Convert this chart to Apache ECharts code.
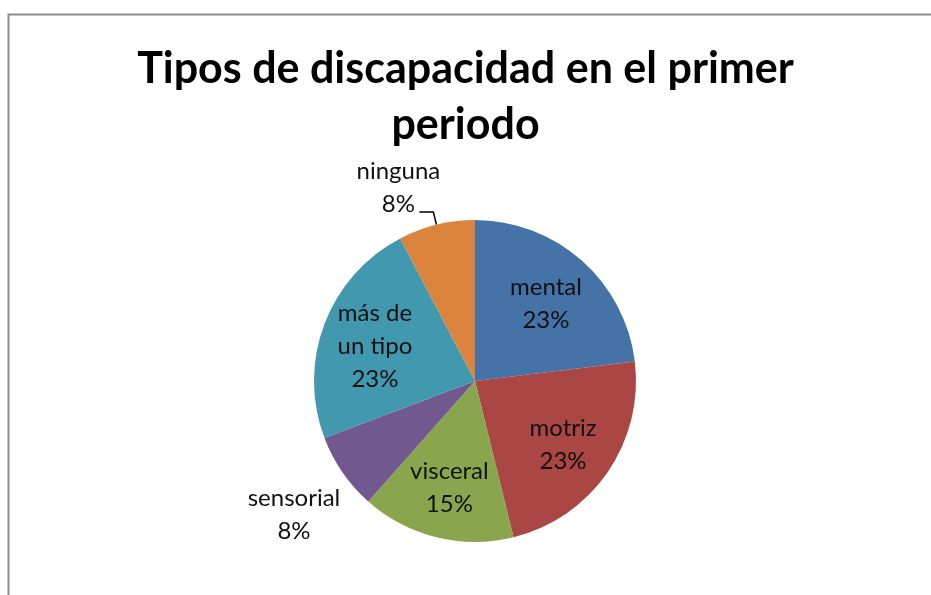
<html lang="es">
<head>
    <meta charset="UTF-8">
    <title>Tipos de discapacidad en el primer periodo</title>
    <script src="https://cdn.jsdelivr.net/npm/echarts@6/dist/echarts.min.js"></script>
</head>
<style>
    body { margin: 0; background: #fff; }
    #Chart1 { width: 931px; height: 595px; }
</style>
<body>
    <div id="Chart1"></div>
</body>
<script>

// data (13 cases in total)
const categories = ['mental', 'motriz', 'visceral', 'sensorial', 'más de un tipo', 'ninguna'];
const counts = [3, 3, 2, 1, 3, 1];
const labelLines = [['mental'], ['motriz'], ['visceral'], ['sensorial'], ['más de', 'un tipo'], ['ninguna']];
const sliceColors = ['#4572A7', '#AA4643', '#89A54E', '#71588F', '#4198AF', '#DB843D'];
const outsideNames = ['sensorial', 'ninguna'];

const labelFont = 'Lato';
const labelSize = 24;
const labelLineHeight = 33;

// measure text so the outside label lines can be centred on each other
const ctx = document.createElement('canvas').getContext('2d');
ctx.font = labelSize + 'px ' + labelFont;
function textWidth(s) { return Math.ceil(ctx.measureText(s).width); }

const total = counts.reduce((a, b) => a + b, 0);
function pct(v) { return Math.round(v / total * 100) + '%'; }

// per item tweaks for the two labels drawn outside the pie
const outsideStyle = {
    'ninguna': { length: 13, length2: 14, line: true, dist: -21, gapBelow: 49, gapAbove: 0 },
    'sensorial': { length: 0, length2: 0, line: false, dist: 2, gapBelow: 0, gapAbove: 84 }
};

let myChart1 = echarts.init(document.getElementById('Chart1'));

let mainData = categories.map(function (name, i) {
    let item = { name: name, value: counts[i], itemStyle: { color: sliceColors[i] } };
    if (outsideNames.indexOf(name) >= 0) {
        let st = outsideStyle[name];
        let lines = labelLines[i].concat([pct(counts[i])]);
        let w = Math.max.apply(null, lines.map(textWidth));
        let txt = lines.map(l => '{w|' + l + '}');
        if (st.gapAbove) txt.unshift('{ga| }');
        if (st.gapBelow) txt.push('{gb| }');
        item.label = {
            show: true,
            position: 'outside',
            distanceToLabelLine: st.dist,
            formatter: txt.join('\n'),
            rich: {
                w: { width: w, align: 'center', fontSize: labelSize, fontFamily: labelFont, color: '#111', lineHeight: labelLineHeight },
                ga: { lineHeight: st.gapAbove, fontSize: 10 },
                gb: { lineHeight: st.gapBelow, fontSize: 10 }
            }
        };
        item.labelLine = { show: st.line, length: st.length, length2: st.length2 };
    } else {
        item.label = { show: false };
        item.labelLine = { show: false };
    }
    return item;
});

// transparent copy of the pie, only used to set the inside labels further out
let labelData = categories.map(function (name, i) {
    let inside = outsideNames.indexOf(name) < 0;
    return {
        name: name,
        value: counts[i],
        label: {
            show: inside,
            formatter: labelLines[i].concat([pct(counts[i])]).join('\n')
        }
    };
});

let option = {
    backgroundColor: '#ffffff',
    animation: false,
    title: {
        text: 'Tipos de discapacidad en el primer\nperiodo',
        left: 'center',
        top: 36,
        textStyle: {
            fontFamily: 'Lato',
            fontWeight: 'bold',
            fontSize: 43,
            lineHeight: 56,
            color: '#000'
        }
    },
    graphic: [{
        type: 'rect',
        left: 6,
        top: 12,
        silent: true,
        z: -1,
        shape: { width: 960, height: 620 },
        style: { fill: 'none', stroke: '#8c8c8c', lineWidth: 2 }
    }],
    series: [
        {
            type: 'pie',
            center: [475, 381],
            radius: 161,
            startAngle: 90,
            clockwise: true,
            avoidLabelOverlap: false,
            emphasis: { disabled: true },
            itemStyle: { borderWidth: 0 },
            labelLine: { lineStyle: { color: '#000', width: 1.5 } },
            data: mainData
        },
        {
            type: 'pie',
            center: [475, 384],
            radius: 208,
            startAngle: 90,
            clockwise: true,
            silent: true,
            avoidLabelOverlap: false,
            emphasis: { disabled: true },
            itemStyle: { color: 'rgba(0,0,0,0)', borderWidth: 0 },
            label: {
                position: 'inside',
                fontFamily: labelFont,
                fontSize: labelSize,
                lineHeight: labelLineHeight,
                color: '#111'
            },
            labelLine: { show: false },
            data: labelData
        }
    ]
};

myChart1.setOption(option);

</script>
</html>
